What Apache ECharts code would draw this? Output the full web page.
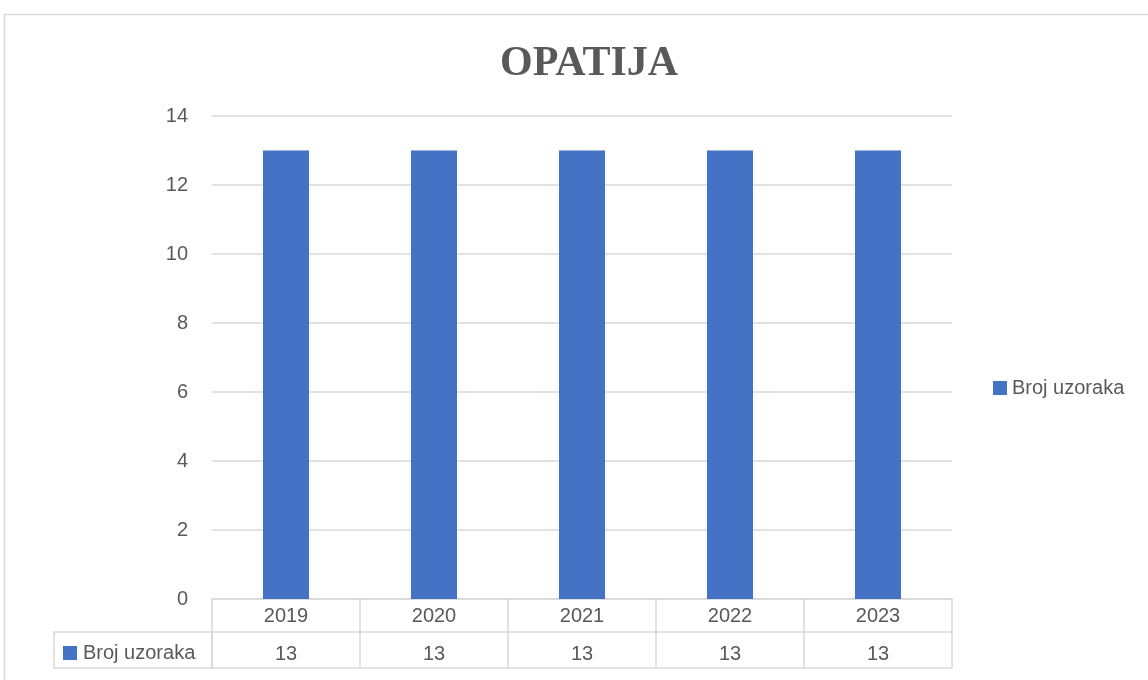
<!DOCTYPE html>
<html>
<head>
<meta charset="utf-8">
<script src="https://cdn.jsdelivr.net/npm/echarts@6/dist/echarts.min.js"></script>
<style>
  html, body { margin: 0; padding: 0; background: #fff; }
  #chart { width: 1148px; height: 680px; }
</style>
</head>
<body>
<div id="chart"></div>
<script>
const years = ['2019', '2020', '2021', '2022', '2023'];
const brojUzoraka = [13, 13, 13, 13, 13];
const seriesName = 'Broj uzoraka';

const font = 'Liberation Sans';
const textColor = '#595959';
const lineColor = '#d9d9d9';

const myChart = echarts.init(document.getElementById('chart'));
myChart.setOption({
  animation: false,
  title: {
    text: 'OPATIJA',
    left: 495,
    top: 38,
    textStyle: { fontFamily: 'Liberation Serif', fontWeight: 'bold', fontSize: 42, color: textColor }
  },
  legend: {
    data: [seriesName],
    left: 988,
    top: 373,
    icon: 'rect',
    itemWidth: 14,
    itemHeight: 14,
    textStyle: { fontFamily: font, fontSize: 20, color: textColor }
  },
  grid: { left: 212, right: 196, top: 116, bottom: 81 },
  xAxis: [
    {
      type: 'category',
      data: years,
      axisLine: { lineStyle: { color: lineColor, width: 1.5 } },
      axisTick: { show: true, length: 69, lineStyle: { color: lineColor, width: 1.5 } },
      axisLabel: { margin: 7, fontFamily: font, fontSize: 20, color: textColor }
    },
    {
      type: 'category',
      data: years,
      position: 'bottom',
      offset: 33,
      axisLine: { lineStyle: { color: lineColor, width: 1.5 } },
      axisTick: { show: false },
      axisLabel: {
        margin: 12, fontFamily: font, fontSize: 20, color: textColor,
        formatter: (v, i) => String(brojUzoraka[i])
      }
    },
    {
      type: 'category',
      data: years,
      position: 'bottom',
      offset: 69,
      axisLine: { lineStyle: { color: lineColor, width: 1.5 } },
      axisTick: { show: false },
      axisLabel: { show: false }
    }
  ],
  yAxis: {
    type: 'value',
    min: 0,
    max: 14,
    interval: 2,
    axisLine: { show: false },
    axisTick: { show: false },
    splitLine: { lineStyle: { color: lineColor, width: 1.5 } },
    axisLabel: { margin: 24, fontFamily: font, fontSize: 20, color: textColor }
  },
  graphic: [
    {
      type: 'rect',
      shape: { x: 4.5, y: 14.5, width: 1200, height: 700 },
      style: { fill: 'none', stroke: lineColor, lineWidth: 1.5 },
      silent: true
    },
    {
      type: 'rect',
      shape: { x: 54, y: 632, width: 158, height: 36 },
      style: { fill: 'none', stroke: lineColor, lineWidth: 1.5 },
      silent: true
    },
    {
      type: 'rect',
      shape: { x: 63, y: 646, width: 14, height: 14 },
      style: { fill: '#4472c4' },
      silent: true
    },
    {
      type: 'text',
      left: 83,
      top: 643,
      style: { text: seriesName, fontFamily: font, fontSize: 20, fill: textColor }
    }
  ],
  series: [
    {
      name: seriesName,
      type: 'bar',
      data: brojUzoraka,
      barWidth: 46,
      itemStyle: { color: '#4472c4' }
    }
  ]
});
</script>
</body>
</html>
